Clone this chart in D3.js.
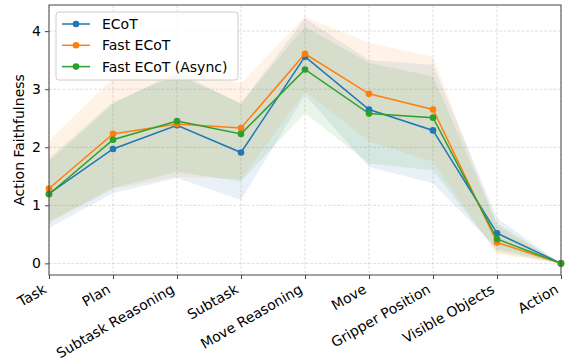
<!DOCTYPE html>
<html><head><meta charset="utf-8">
<script src="https://cdn.jsdelivr.net/npm/d3@7"></script>
<style>body{margin:0;background:#fff}svg{display:block}text{font-family:"DejaVu Sans",sans-serif}</style>
</head><body><svg id="c" width="566" height="364"></svg>
<script>
const categories = ["Task","Plan","Subtask Reasoning","Subtask","Move Reasoning","Move","Gripper Position","Visible Objects","Action"];
const ecotMean  = [1.20,1.97,2.38,1.91,3.56,2.65,2.29,0.52,0];
const ecotLow   = [0.61,1.21,1.47,1.09,2.90,1.66,1.38,0.25,0];
const ecotHigh  = [1.76,2.75,3.30,2.75,4.22,3.50,3.42,0.78,0];
const fastMean  = [1.29,2.23,2.40,2.33,3.61,2.92,2.65,0.36,0];
const fastLow   = [0.69,1.28,1.49,1.45,2.96,2.10,1.75,0.16,0];
const fastHigh  = [2.12,3.19,3.40,3.10,4.25,3.80,3.56,0.65,0];
const asyncMean = [1.19,2.13,2.45,2.23,3.34,2.58,2.51,0.42,0];
const asyncLow  = [0.72,1.30,1.58,1.41,2.59,1.72,1.60,0.20,0];
const asyncHigh = [1.81,2.78,3.25,2.76,4.08,3.45,3.22,0.69,0];
const seriesNames = ["ECoT","Fast ECoT","Fast ECoT (Async)"];
const yTicks = [0,1,2,3,4];

const colors = ["#1f77b4","#ff7f0e","#2ca02c"];
const series = [
  {name:seriesNames[0], mean:ecotMean, low:ecotLow, high:ecotHigh},
  {name:seriesNames[1], mean:fastMean, low:fastLow, high:fastHigh},
  {name:seriesNames[2], mean:asyncMean, low:asyncLow, high:asyncHigh}
];
const svg = d3.select("#c");
const L=49, R=561, T=5, B=275;
const x = d3.scalePoint().domain(categories).range([L,R]);
const y = d3.scaleLinear().domain([-0.2,4.45]).range([B,T]);

// grid
const g = svg.append("g");
g.selectAll(".gx").data(categories).join("line")
  .attr("x1",d=>x(d)).attr("x2",d=>x(d)).attr("y1",T).attr("y2",B)
  .attr("stroke","#b0b0b0").attr("stroke-opacity",0.5).attr("stroke-width",0.8).attr("stroke-dasharray","3,1.5");
g.selectAll(".gy").data(yTicks).join("line")
  .attr("x1",L).attr("x2",R).attr("y1",d=>y(d)).attr("y2",d=>y(d))
  .attr("stroke","#b0b0b0").attr("stroke-opacity",0.5).attr("stroke-width",0.8).attr("stroke-dasharray","3,1.5");

const clip = svg.append("clipPath").attr("id","clp").append("rect").attr("x",L).attr("y",T).attr("width",R-L).attr("height",B-T);
const plot = svg.append("g").attr("clip-path","url(#clp)");
const area = d3.area().x((d,i)=>x(categories[i])).y0(d=>y(d[0])).y1(d=>y(d[1]));
series.forEach((s,k)=>{
  plot.append("path").datum(s.low.map((v,i)=>[v,s.high[i]]))
    .attr("d",area).attr("fill",colors[k]).attr("fill-opacity",0.1);
});
const line = d3.line().x((d,i)=>x(categories[i])).y(d=>y(d));
const plot2 = svg.append("g");
series.forEach((s,k)=>{
  plot2.append("path").datum(s.mean).attr("d",line).attr("fill","none")
    .attr("stroke",colors[k]).attr("stroke-width",1.5);
  plot2.selectAll(null).data(s.mean).join("circle")
    .attr("cx",(d,i)=>x(categories[i])).attr("cy",d=>y(d)).attr("r",3.3).attr("fill",colors[k]);
});

// frame
svg.append("rect").attr("x",L).attr("y",T).attr("width",R-L).attr("height",B-T)
  .attr("fill","none").attr("stroke","#444").attr("stroke-width",1);

// axes
const ax = svg.append("g").attr("transform",`translate(0,${B})`)
  .call(d3.axisBottom(x).tickSize(4).tickPadding(3).tickFormat(""));
ax.select(".domain").remove();
ax.selectAll("line").attr("stroke","#444");
const xl = svg.append("g");
xl.selectAll("text").data(categories).join("text")
  .attr("transform",d=>`translate(${x(d)-1.5},${292}) rotate(-30)`)
  .attr("text-anchor","end").attr("font-size",14).attr("fill","#000").text(d=>d);

const ay = svg.append("g").attr("transform",`translate(${L},0)`)
  .call(d3.axisLeft(y).tickValues(yTicks).tickSize(4).tickPadding(4).tickFormat(d3.format("d")));
ay.select(".domain").remove();
ay.selectAll("line").attr("stroke","#444");
ay.selectAll("text").attr("font-size",14).attr("font-family","DejaVu Sans").attr("fill","#000");

svg.append("text").attr("transform",`translate(24,${(T+B)/2}) rotate(-90)`)
  .attr("text-anchor","middle").attr("font-size",14).text("Action Faithfulness");

// legend
const lg = svg.append("g");
lg.append("rect").attr("x",56).attr("y",12).attr("width",182).attr("height",68).attr("rx",3)
  .attr("fill","#fff").attr("fill-opacity",0.8).attr("stroke","#ccc");
series.forEach((s,k)=>{
  const yy = 24 + k*21.3;
  lg.append("line").attr("x1",62).attr("x2",90).attr("y1",yy).attr("y2",yy).attr("stroke",colors[k]).attr("stroke-width",1.5);
  lg.append("circle").attr("cx",76).attr("cy",yy).attr("r",3.3).attr("fill",colors[k]);
  lg.append("text").attr("x",102).attr("y",yy+5).attr("font-size",14).text(s.name);
});
</script></body></html>
